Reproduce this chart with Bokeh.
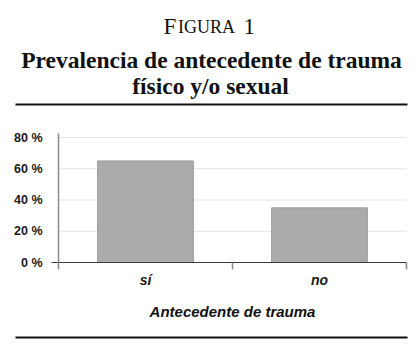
from bokeh.plotting import figure
from bokeh.models import (Range1d, FixedTicker, PrintfTickFormatter, Label,
                          BoxAnnotation, ColumnDataSource)
from bokeh.embed import file_html
from bokeh.resources import INLINE

# ---- data ----
categories = ["sí", "no"]
values = [65, 35]
y_ticks = [0, 20, 40, 60, 80]
x_title = "Antecedente de trauma"
fig_label = ["F", "IGURA", "1"]
title_lines = ["Prevalencia de antecedente de trauma", "físico y/o sexual"]

n = len(categories)
centers = [i + 0.5 for i in range(n)]

W, H = 417, 354
# layout (canvas pixels): category band 58..406, zero line at 262, 20 % = 31.25 px
X0, XPU = 58, 174.0
Y0, YPU = 262, 31.25 / 20


def dx(X):
    return (X - X0) / XPU


def dy(Y):
    return (Y0 - Y) / YPU


p = figure(width=W, height=H, output_backend="svg", toolbar_location=None,
           x_range=Range1d(dx(0), dx(W)), y_range=Range1d(dy(H), dy(0)),
           min_border=0)
p.outline_line_color = None
p.xgrid.visible = False
p.ygrid.visible = False

# gridlines
grid_src = ColumnDataSource(dict(x0=[0] * (len(y_ticks) - 1), x1=[n] * (len(y_ticks) - 1),
                                 y=y_ticks[1:]))
p.segment(x0="x0", x1="x1", y0="y", y1="y", source=grid_src,
          line_color="#e3e3e3", line_width=1)

# bars
src = ColumnDataSource(dict(x=centers, top=values))
p.vbar(x="x", top="top", width=0.55, bottom=0, source=src,
       fill_color="#ababab", line_color="#9c9c9c", line_width=1)

# zero line and vertical axis line
p.segment(x0=[dx(51)], x1=[n], y0=[0], y1=[0], line_color="#3a3a3a", line_width=1.2)
p.segment(x0=[0], x1=[0], y0=[dy(269)], y1=[dy(133)], line_color="#8a8a8a", line_width=1.5)

# y axis (labels only)
ya = p.yaxis[0]
ya.fixed_location = dx(51)
ya.ticker = FixedTicker(ticks=y_ticks, minor_ticks=[])
ya.formatter = PrintfTickFormatter(format="%d %%")
ya.axis_line_color = None
ya.major_tick_line_color = None
ya.minor_tick_line_color = None
ya.major_tick_out = 0
ya.major_tick_in = 0
ya.major_label_standoff = 9
ya.major_label_text_font = "Liberation Sans"
ya.major_label_text_font_style = "bold"
ya.major_label_text_font_size = "12.5px"
ya.major_label_text_color = "#1a1a1a"

# x axis
xa = p.xaxis[0]
xa.fixed_location = dy(269)
xa.ticker = FixedTicker(ticks=centers, minor_ticks=[i + 1 for i in range(n)])
xa.major_label_overrides = {c: t for c, t in zip(centers, categories)}
xa.axis_line_color = None
xa.major_tick_line_color = None
xa.major_tick_out = 0
xa.major_tick_in = 0
xa.minor_tick_line_color = "#8a8a8a"
xa.minor_tick_line_width = 1.5
xa.minor_tick_in = 7
xa.minor_tick_out = 0
xa.major_label_standoff = 2
xa.major_label_text_font = "Liberation Sans"
xa.major_label_text_font_style = "bold italic"
xa.major_label_text_font_size = "14px"
xa.major_label_text_color = "#1a1a1a"


def lab(text, X, Y, size, style="normal", align="left", font="Liberation Serif"):
    p.add_layout(Label(x=X, y=H - Y, x_units="screen", y_units="screen",
                       text=text, text_font=font, text_font_size=size,
                       text_font_style=style, text_align=align,
                       text_baseline="alphabetic", text_color="#111111"))


lab(fig_label[0], 163, 26, "23px")
lab(fig_label[1], 177.5, 26, "18px")
lab(fig_label[2], 243, 26, "23px")
lab(title_lines[0], 211, 59, "23.5px", "bold", "center")
lab(title_lines[1], 210, 85, "23.5px", "bold", "center")
lab(x_title, 232, 310.5, "15px", "bold italic", "center", "Liberation Sans")

for ytop in (103, 336):
    p.add_layout(BoxAnnotation(left=15, right=407, top=H - ytop, bottom=H - ytop - 2,
                               left_units="screen", right_units="screen",
                               top_units="screen", bottom_units="screen",
                               fill_color="#111111", fill_alpha=1, line_color=None))

open("out.html", "w").write(file_html(p, INLINE))
